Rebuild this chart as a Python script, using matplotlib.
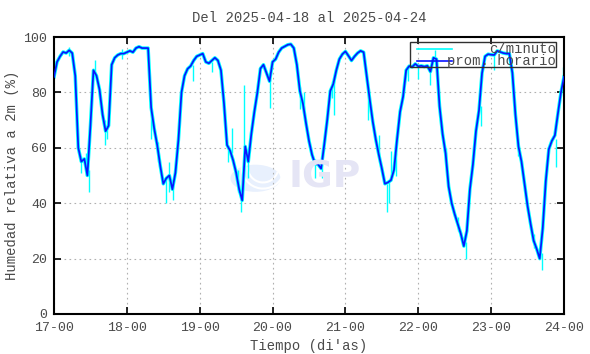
import numpy as np
import matplotlib
matplotlib.use("Agg")
import matplotlib.pyplot as plt
from matplotlib.patches import Circle, Arc, Rectangle
from matplotlib.lines import Line2D

# hourly mean relative humidity (%), one list per day, 00h..23h
d17 = [85.6, 91, 93, 94.6, 94.2, 95.2, 94.2, 86, 60, 55, 56, 50, 68, 88, 86, 81, 72, 66, 68, 90, 92.5, 93.5, 94, 94]
d18 = [94.5, 95, 94.5, 96, 96.5, 96, 96, 96, 74.5, 67, 61, 53.5, 47, 49, 50, 45, 51, 63, 80, 86, 88.5, 89.5, 91.5, 93]
d19 = [93.5, 94, 91, 90.5, 91.5, 92.5, 91.5, 88, 76, 61, 59, 55.5, 51, 45, 41, 60.5, 55, 65, 73, 80, 88.6, 90, 87, 84]
d20 = [91, 92, 94.5, 96, 96.6, 97.2, 97.4, 96, 90, 80.5, 76, 69, 62.5, 57.5, 54.2, 54, 52.5, 61, 70, 80.5, 83, 88, 92, 93.8]
d21 = [94.8, 93.2, 91.5, 93, 94.2, 95, 94.5, 86, 77.5, 69.5, 63, 57.5, 52.5, 47, 47.5, 48.3, 52, 63, 73, 78.5, 88, 89.5, 89.2, 90.3]
d22 = [89.4, 89.6, 89.3, 89.6, 87.5, 92.5, 92, 75, 65, 58, 46, 40, 36, 32.5, 29, 24.5, 30, 45, 54, 66, 73.5, 87, 93, 93.8]
d23 = [93.6, 93.5, 95, 94.6, 94.2, 94, 94, 87, 72, 60.5, 55, 47, 39, 32.5, 26.5, 23.5, 20, 31, 48, 59.5, 62.5, 64.5, 72.4, 80]
d24 = [85.6]

# visible excursions of the per-minute series: hour, low, high
spike_t = [5.0, 9.0, 10.5, 11.4, 13.4, 16.8, 17.5, 22.5,
           32.0, 34.2, 36.9, 37.8, 39.3, 45.8,
           51.9, 57.2, 58.6, 60.5, 61.6, 62.7, 64.0, 71.0,
           81.1, 82.4, 86.0, 88.3, 91.5, 92.3,
           103.5, 107.0, 109.8, 110.5, 111.0, 112.5, 116.5,
           120.0, 124.0, 125.5, 129.0, 133.0, 135.8, 140.5,
           145.0, 153.0, 158.0, 160.7, 165.4, 167.8]
spike_lo = [93, 51, 50, 44, 86, 61, 63, 92,
            63, 55, 40, 44, 41, 84,
            87.4, 55, 58, 44, 37, 60, 49, 74.4,
            74, 74, 49, 49, 78, 71.8,
            70, 57, 37, 40, 48, 50, 84,
            85, 82.6, 90, 54, 30, 20, 68,
            88, 57, 24, 16, 53, 82]
spike_hi = [96.5, 57, 58, 52, 91.6, 70, 68, 95.5,
            75, 62, 49, 55, 47, 90,
            91, 61, 67, 52, 44, 82.7, 57, 85,
            82, 80, 56, 55, 84, 84,
            82, 64.5, 47, 48, 59, 58, 89,
            90, 90, 95.2, 60, 35, 26, 75,
            94, 62, 29, 22, 63, 89]

day_labels = ["17-00", "18-00", "19-00", "20-00", "21-00", "22-00", "23-00", "24-00"]

hourly = np.array(d17 + d18 + d19 + d20 + d21 + d22 + d23 + d24)
hours = np.arange(len(hourly))

grey = "#4a4a4a"
mono = ["Liberation Mono", "DejaVu Sans Mono"]
plt.rcParams["font.family"] = mono

fig = plt.figure(figsize=(5.9, 3.54), dpi=100)
ax = fig.add_axes([54/590, 1-314/354, 510/590, 277/354])

# IGP watermark
ax.add_patch(Circle((0.395, 0.49), 0.049, transform=ax.transAxes,
                    facecolor="#e8f0fd", edgecolor="none", zorder=0))
for r in [0.030, 0.042]:
    ax.add_patch(Arc((0.41, 0.53), r*2, r*2*1.84, theta1=180, theta2=330,
                     transform=ax.transAxes, color="white", lw=1.5, zorder=0))
fig.text(289/590, 1-178/354, "IGP", color="#e5e5f5", fontsize=27, fontweight="bold",
         family="DejaVu Sans", va="center", ha="left", zorder=0)

ax.plot(hours, hourly, color="#00ffff", lw=2.5, solid_joinstyle="round", zorder=2)
ax.vlines(spike_t, spike_lo, spike_hi, color="#00ffff", lw=1.0, zorder=2)
ax.plot(hours, hourly, color="#0a14ff", lw=1.25, zorder=3)

ax.set_xlim(0, 168)
ax.set_ylim(0, 100)
ax.set_xticks(np.arange(0, 169, 24))
ax.set_xticklabels(day_labels)
ax.set_yticks(np.arange(0, 101, 20))
ax.grid(True, color="#b0b0b0", ls=(0, (1.5, 3)), lw=0.8)
ax.tick_params(direction="in", length=5, width=1.2, top=True, right=True,
               colors="black", labelcolor=grey, labelsize=9.5)
ax.tick_params(axis="x", pad=6)
ax.tick_params(axis="y", pad=5)
for s in ax.spines.values():
    s.set_linewidth(1.5)

# legend box
bx0, bx1, by0, by1 = 410, 556, 42, 67
def ax_xy(px, py):
    return (px - 54) / 510, (314 - py) / 277
x0, y0 = ax_xy(bx0, by1)
x1, y1 = ax_xy(bx1, by0)
ax.add_patch(Rectangle((x0, y0), x1 - x0, y1 - y0, transform=ax.transAxes,
                       fill=False, edgecolor="#303030", lw=1.0, zorder=4))
for py, col, lab in [(48.5, "#00ffff", "c/minuto"), (61, "#0a14ff", "prom. horario")]:
    la, yy = ax_xy(417, py)
    lb, _ = ax_xy(452, py)
    ax.add_line(Line2D([la, lb], [yy, yy], color=col, lw=1.2, transform=ax.transAxes, zorder=4))
    tx, _ = ax_xy(556, py)
    ax.text(tx, yy, lab, transform=ax.transAxes, ha="right", va="center",
            color=grey, fontsize=10, zorder=4)

fig.text(309/590, 1-18/354, "Del 2025-04-18 al 2025-04-24", ha="center", va="center",
         color=grey, fontsize=10)
fig.text(309/590, 1-346/354, "Tiempo (di'as)", ha="center", va="center",
         color=grey, fontsize=10)
fig.text(12/590, 1-175/354, "Humedad relativa a 2m (%)", ha="center", va="center",
         rotation=90, color=grey, fontsize=10)

fig.savefig("out.png", dpi=100)
